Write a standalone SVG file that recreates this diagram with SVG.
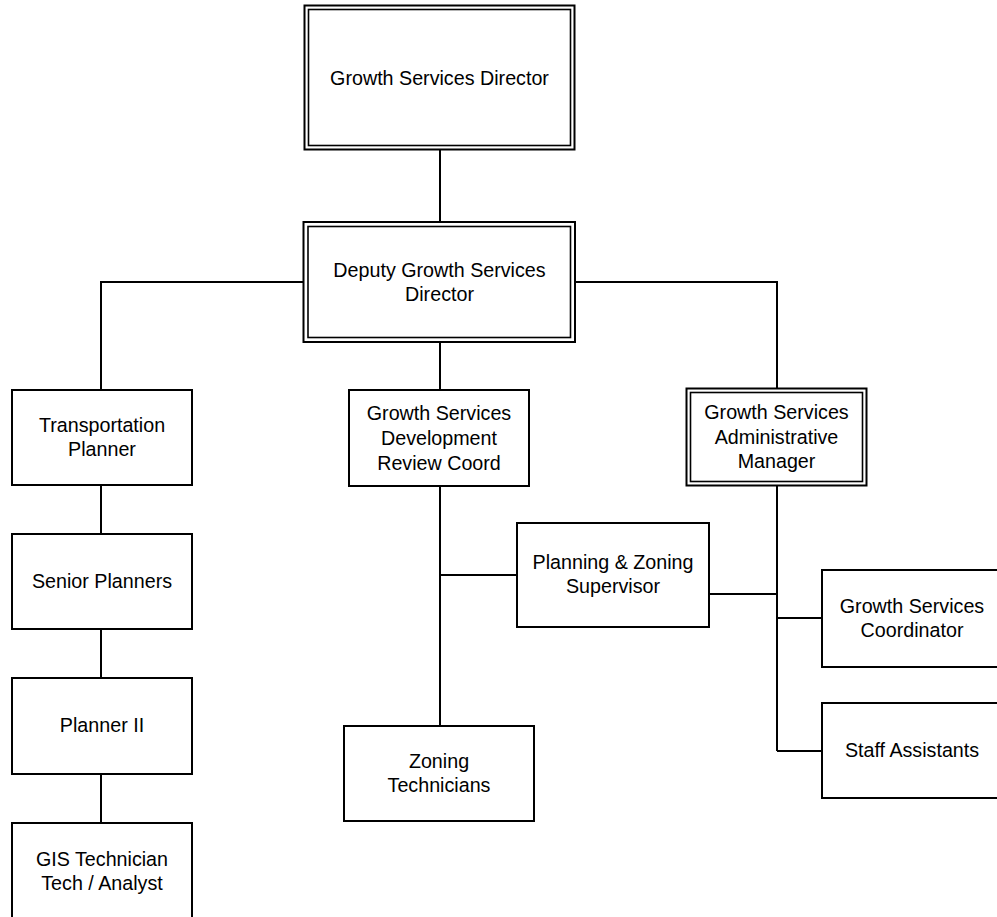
<svg xmlns="http://www.w3.org/2000/svg" width="997" height="917" viewBox="0 0 997 917">
  <style>
    .box { fill: #ffffff; stroke: #000000; stroke-width: 2; }
    .inner { fill: none; stroke: #000000; stroke-width: 1.6; }
    .wire { fill: none; stroke: #000000; stroke-width: 2; }
    text { font-family: "Liberation Sans", Arial, sans-serif; font-size: 19.7px; fill: #000000; text-anchor: middle; }
  </style>
  <rect width="997" height="917" fill="#ffffff"/>

  <!-- reporting lines -->
  <g id="connectors">
    <path class="wire" d="M440 149 V222"/>
    <path class="wire" d="M303 282 H101 V390"/>
    <path class="wire" d="M575 282 H777 V388"/>
    <path class="wire" d="M440 342 V390"/>
    <path class="wire" d="M101 485 V534 M101 629 V678 M101 774 V823"/>
    <path class="wire" d="M440 486 V726 M440 575 H517"/>
    <path class="wire" d="M709 594 H777"/>
    <path class="wire" d="M777 486 V751 M777 618 H822 M777 751 H822"/>
  </g>

  <g id="director">
    <rect class="box" x="304.5" y="5.5" width="270" height="144"/>
    <rect class="inner" x="308.5" y="9.5" width="262" height="136"/>
    <text x="439.5" y="84.5">Growth Services Director</text>
  </g>

  <g id="deputy-director">
    <rect class="box" x="303.5" y="222" width="271.5" height="120"/>
    <rect class="inner" x="308" y="226.5" width="262.5" height="111"/>
    <text x="439.5" y="277">Deputy Growth Services</text>
    <text x="439.5" y="301">Director</text>
  </g>

  <g id="transportation-planner">
    <rect class="box" x="12" y="390" width="180" height="95"/>
    <text x="102" y="432">Transportation</text>
    <text x="102" y="456">Planner</text>
  </g>

  <g id="senior-planners">
    <rect class="box" x="12" y="534" width="180" height="95"/>
    <text x="102" y="588">Senior Planners</text>
  </g>

  <g id="planner-ii">
    <rect class="box" x="12" y="678" width="180" height="96"/>
    <text x="102" y="732">Planner II</text>
  </g>

  <g id="gis-technician">
    <rect class="box" x="12" y="823" width="180" height="97"/>
    <text x="102" y="866">GIS Technician</text>
    <text x="102" y="890">Tech / Analyst</text>
  </g>

  <g id="development-review-coord">
    <rect class="box" x="349" y="390" width="180" height="96"/>
    <text x="439" y="419.5">Growth Services</text>
    <text x="439" y="444.5">Development</text>
    <text x="439" y="469.5">Review Coord</text>
  </g>

  <g id="planning-zoning-supervisor">
    <rect class="box" x="517" y="523" width="192" height="104"/>
    <text x="613" y="569">Planning &amp; Zoning</text>
    <text x="613" y="593">Supervisor</text>
  </g>

  <g id="zoning-technicians">
    <rect class="box" x="344" y="726" width="190" height="95"/>
    <text x="439" y="768">Zoning</text>
    <text x="439" y="792">Technicians</text>
  </g>

  <g id="administrative-manager">
    <rect class="box" x="686.5" y="388.5" width="180" height="97"/>
    <rect class="inner" x="690.5" y="392.5" width="172" height="89"/>
    <text x="776.5" y="419">Growth Services</text>
    <text x="776.5" y="443.5">Administrative</text>
    <text x="776.5" y="468">Manager</text>
  </g>

  <g id="services-coordinator">
    <rect class="box" x="822" y="570" width="182" height="97"/>
    <text x="912" y="613">Growth Services</text>
    <text x="912" y="637">Coordinator</text>
  </g>

  <g id="staff-assistants">
    <rect class="box" x="822" y="703" width="182" height="95"/>
    <text x="912" y="757">Staff Assistants</text>
  </g>
</svg>
